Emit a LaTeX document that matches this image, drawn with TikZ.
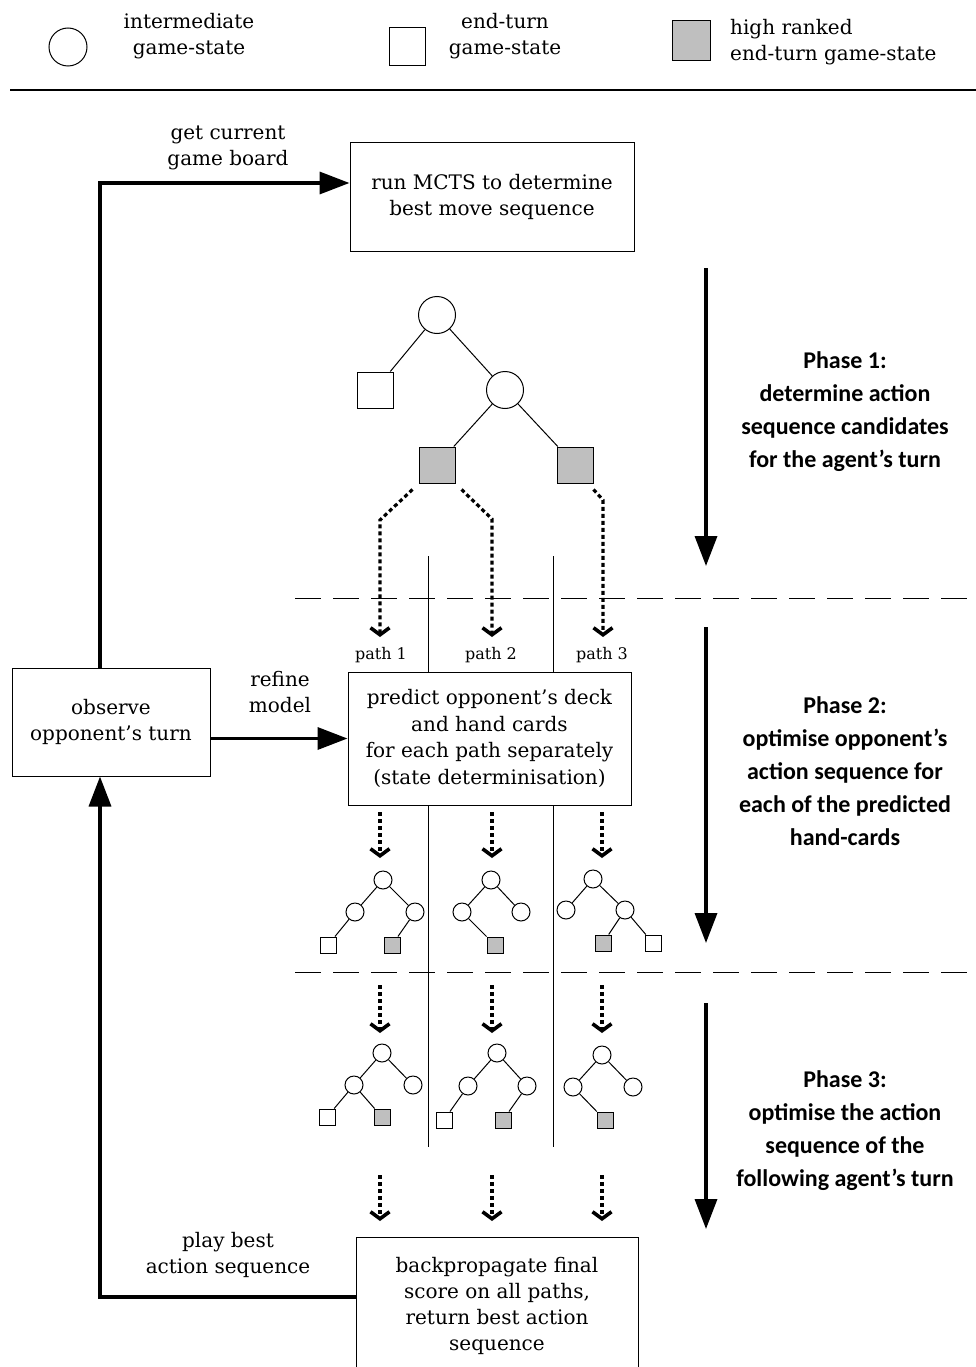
\documentclass[tikz,border=0pt]{standalone}
\usepackage{fontspec}
\setmainfont{DejaVu Serif}
\newfontfamily\phasefont{Carlito}
\usetikzlibrary{arrows.meta}
\begin{document}
\begin{tikzpicture}[x=1pt,y=-1pt,
  txt/.style={font=\fontsize{20}{26}\selectfont, align=center, inner sep=0pt},
  phasetxt/.style={font=\phasefont\bfseries\fontsize{24}{33}\selectfont, align=center, inner sep=0pt},
  boxnode/.style={draw, line width=1pt, align=center, inner sep=0pt},
  bigc/.style={draw, circle, line width=1pt, minimum size=37pt, inner sep=0pt, fill=white},
  bigs/.style={draw, rectangle, line width=1pt, minimum size=36pt, inner sep=0pt, fill=white},
  bigg/.style={bigs, fill=black!25},
  smc/.style={draw, circle, line width=1pt, minimum size=18pt, inner sep=0pt, fill=white},
  sms/.style={draw, rectangle, line width=1pt, minimum size=16pt, inner sep=0pt, fill=white},
  smg/.style={sms, fill=black!25},
  edge/.style={line width=1pt},
  thickarrow/.style={line width=3.5pt, -{Triangle[length=30pt,width=22pt]}},
  dotarrow/.style={line width=3.2pt, dash pattern=on 4pt off 3pt, -{Straight Barb[length=7pt,width=19pt,line width=3.6pt]}},
  sep/.style={line width=1pt},
  dashsep/.style={line width=1pt, dash pattern=on 26pt off 12pt}
]
\useasboundingbox (0,0) rectangle (976,1367);

% legend
\node[draw, circle, line width=1pt, minimum size=38pt, inner sep=0pt] (lc) at (68,47) {};
\node[txt] (lct) at (189,36) {intermediate\\game-state};
\node[draw, rectangle, line width=1pt, minimum width=36pt, minimum height=38pt, inner sep=0pt] (ls) at (407,47) {};
\node[txt] (lst) at (505,36) {end-turn\\game-state};
\node[draw, rectangle, line width=1pt, minimum width=38pt, minimum height=40pt, inner sep=0pt, fill=black!25] (lg) at (691,41) {};
\node[txt, align=left, anchor=west] (lgt) at (730,42) {high ranked\\end-turn game-state};
\coordinate (hl1) at (10,90);
\coordinate (hl2) at (976,90);
\draw[line width=1.5pt] (hl1) -- (hl2);

% boxes
\node[boxnode, minimum width=284pt, minimum height=108pt, font=\fontsize{20}{26}\selectfont] (mcts) at (492,197) {run MCTS to determine\\best move sequence};
\node[boxnode, minimum width=198pt, minimum height=108pt, font=\fontsize{20}{26}\selectfont] (obs) at (111,722) {observe\\opponent’s turn};
\node[boxnode, minimum width=283pt, minimum height=133pt, font=\fontsize{20}{26.5}\selectfont] (pred) at (489.5,738.5) {predict opponent’s deck\\and hand cards\\for each path separately\\(state determinisation)};
\node[boxnode, minimum width=282pt, minimum height=150pt, anchor=north] (back) at (497,1237) {};
\node[txt] (backt) at (497,1306) {backpropagate final\\score on all paths,\\return best action\\sequence};

% labels
\node[txt] (gcb) at (228,148) {get current\\game board};
\node[txt] (rm) at (280,692) {refine\\model};
\node[txt] (pba) at (228,1255) {play best\\action sequence};

% main thick arrows
\coordinate (c1) at (100,183);
\draw[thickarrow] (obs.north -| c1) -- (c1) -- (mcts.west |- c1);
\draw[thickarrow] (obs.east |- pred.west) -- (pred.west);
\coordinate (c2) at (100,1297);
\draw[thickarrow] (back.west |- c2) -- (c2) -- (obs.south -| c2);

% phase arrows
\coordinate (p1a) at (706,268); \coordinate (p1b) at (706,566);
\coordinate (p2a) at (706,627); \coordinate (p2b) at (706,943);
\coordinate (p3a) at (706,1003); \coordinate (p3b) at (706,1229);
\draw[thickarrow] (p1a) -- (p1b);
\draw[thickarrow] (p2a) -- (p2b);
\draw[thickarrow] (p3a) -- (p3b);
\node[phasetxt] (ph1) at (845,412) {Phase 1:\\determine action\\sequence candidates\\for the agent’s turn};
\node[phasetxt] (ph2) at (845,771) {Phase 2:\\optimise opponent’s\\action sequence for\\each of the predicted\\hand-cards};
\node[phasetxt] (ph3) at (845,1131) {Phase 3:\\optimise the action\\sequence of the\\following agent’s turn};

% dashed separators
\coordinate (d1a) at (295,598); \coordinate (d1b) at (976,598);
\coordinate (d2a) at (295,972); \coordinate (d2b) at (976,972);
\draw[dashsep] (d1a) -- (d1b);
\draw[dashsep] (d2a) -- (d2b);

% vertical path separators
\coordinate (v1t) at (428,556); \coordinate (v1b) at (428,1147);
\coordinate (v2t) at (553,556); \coordinate (v2b) at (553,1147);
\draw[sep] (v1t) -- (v1t |- pred.north);
\draw[sep] (v1t |- pred.south) -- (v1b);
\draw[sep] (v2t) -- (v2t |- pred.north);
\draw[sep] (v2t |- pred.south) -- (v2b);

% big tree
\node[bigc] (r) at (437,315) {};
\node[bigs] (s1) at (375,390) {};
\node[bigc] (c) at (505,390) {};
\node[bigg] (g1) at (437,465) {};
\node[bigg] (g2) at (575,465) {};
\draw[edge] (r) -- (s1);
\draw[edge] (r) -- (c);
\draw[edge] (c) -- (g1);
\draw[edge] (c) -- (g2);

% path labels
\node[txt, font=\fontsize{16}{18}\selectfont] (pl1) at (381,655) {path 1};
\node[txt, font=\fontsize{16}{18}\selectfont] (pl2) at (491,655) {path 2};
\node[txt, font=\fontsize{16}{18}\selectfont] (pl3) at (602,655) {path 3};

% dotted arrows from big tree
\coordinate (a1) at (380,520); \coordinate (a1e) at (380,637);
\coordinate (a2) at (492,519); \coordinate (a2e) at (492,637);
\coordinate (a3) at (603,500); \coordinate (a3e) at (603,637);
\draw[dotarrow] (g1.south west) ++(-6,6) coordinate (g1a) (g1a) -- (a1) -- (a1e);
\draw[dotarrow] (g1.south east) ++(6,6) coordinate (g1b) (g1b) -- (a2) -- (a2e);
\draw[dotarrow] (g2.south east) ++(0,6) coordinate (g2a) (g2a) -- (a3) -- (a3e);

% dotted arrows below predict box
\foreach \x/\n in {380/A,492/B,602/C}{
  \coordinate (q\n s) at (\x,812); \coordinate (q\n e) at (\x,858);
  \draw[dotarrow] (q\n s) -- (q\n e);
  \coordinate (w\n s) at (\x,985); \coordinate (w\n e) at (\x,1033);
  \draw[dotarrow] (w\n s) -- (w\n e);
  \coordinate (z\n s) at (\x,1175); \coordinate (z\n e) at (\x,1221);
  \draw[dotarrow] (z\n s) -- (z\n e);
}

% phase 2 small trees
\node[smc] (A0) at (383,880) {};
\node[smc] (A1) at (355,912) {};
\node[smc] (A2) at (415,912) {};
\node[sms] (A3) at (328,945) {};
\node[smg] (A4) at (392,945) {};
\draw[edge] (A0) -- (A1); \draw[edge] (A0) -- (A2);
\draw[edge] (A1) -- (A3); \draw[edge] (A2) -- (A4);

\node[smc] (B0) at (491,880) {};
\node[smc] (B1) at (462,912) {};
\node[smc] (B2) at (521,912) {};
\node[smg] (B3) at (495,945) {};
\draw[edge] (B0) -- (B1); \draw[edge] (B0) -- (B2);
\draw[edge] (B1) -- (B3);

\node[smc] (C0) at (593,879) {};
\node[smc] (C1) at (566,910) {};
\node[smc] (C2) at (625,910) {};
\node[smg] (C3) at (603,943) {};
\node[sms] (C4) at (653,943) {};
\draw[edge] (C0) -- (C1); \draw[edge] (C0) -- (C2);
\draw[edge] (C2) -- (C3); \draw[edge] (C2) -- (C4);

% phase 3 small trees
\node[smc] (D0) at (382,1053) {};
\node[smc] (D1) at (354,1085) {};
\node[smc] (D2) at (413,1085) {};
\node[sms] (D3) at (327,1117) {};
\node[smg] (D4) at (382,1117) {};
\draw[edge] (D0) -- (D1); \draw[edge] (D0) -- (D2);
\draw[edge] (D1) -- (D3); \draw[edge] (D1) -- (D4);

\node[smc] (E0) at (497,1053) {};
\node[smc] (E1) at (468,1086) {};
\node[smc] (E2) at (527,1086) {};
\node[sms] (E3) at (444,1120) {};
\node[smg] (E4) at (503,1120) {};
\draw[edge] (E0) -- (E1); \draw[edge] (E0) -- (E2);
\draw[edge] (E1) -- (E3); \draw[edge] (E2) -- (E4);

\node[smc] (F0) at (602,1055) {};
\node[smc] (F1) at (573,1087) {};
\node[smc] (F2) at (633,1087) {};
\node[smg] (F3) at (605,1120) {};
\draw[edge] (F0) -- (F1); \draw[edge] (F0) -- (F2);
\draw[edge] (F1) -- (F3);
\end{tikzpicture}
\end{document}
